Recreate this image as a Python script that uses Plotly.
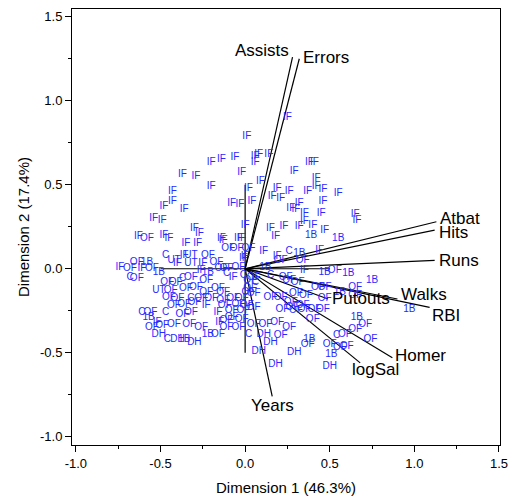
import plotly.graph_objects as go

# ---- observation scores (Dimension 1, Dimension 2) with position labels ----
pos = ["IF","IF","IF","IF","IF","IF","IF","IF","IF","IF",
       "IF","IF","IF","IF","IF","IF","IF","IF","IF","IF",
       "IF","IF","IF","IF","IF","IF","IF","OF","IF","IF",
       "IF","IF","IF","IF","IF","IF","IF","IF","IF","IF",
       "IF","IF","IF","IF","IF","IF","IF","IF","IF","IF",
       "IF","IF","IF","IF","IF","IF","IF","IF","IF","1B",
       "1B","IF","IF","OF","OF","IF","IF","C","1B","OF",
       "OF","IF","IF","1B","IF","1B","OF","1B","1B","1B",
       "OF","OF","1B","OF","OF","OF","OF","OF","OF","OF",
       "OF","C","OF","OF","OF","OF","OF","OF","OF","OF",
       "OF","OF","OF","OF","OF","OF","OF","OF","OF","OF",
       "C","DH","OF","DH","DH","DH","DH","DH","1B","OF",
       "C","OF","OF","OF","OF","1B","1B","OF","OF","OF",
       "IF","OF","OF","1B","IF","OF","1B","C","OF","C",
       "UT","IF","UT","IF","UT","OF","OF","IF","IF","1B",
       "OF","C","IF","OF","OF","C","OF","OF","UT","OF",
       "OF","OF","OF","OF","OF","OF","OF","C","OF","OF",
       "OF","OF","OF","C","OF","C","1B","IF","OF","OF",
       "OF","IF","OF","OF","OF","OF","IF","OF","OF","OF",
       "IF","OF","OF","OF","OF","OF","OF","DH","C","DH",
       "1B","DH","1B","OF","OF","OF","OF","C","OF","C",
       "OF","OF","OF","OF","OF","OF","IF","IF","IF","IF"]
dim1 = [0.01,0.25,-0.20,-0.14,-0.06,0.06,0.08,0.14,0.06,-0.37,
        -0.29,-0.20,-0.02,0.02,-0.43,-0.43,-0.48,-0.36,-0.08,-0.03,
        0.04,-0.54,-0.49,0.00,-0.30,-0.27,-0.63,-0.58,-0.48,-0.45,
        -0.14,-0.02,0.29,0.38,0.41,0.09,0.42,0.42,0.46,0.55,
        0.19,0.26,0.37,0.16,0.21,0.32,0.46,0.27,0.30,0.35,
        0.45,0.65,0.66,0.35,0.40,0.15,0.23,0.32,0.47,0.39,
        0.55,0.18,-0.13,-0.10,0.02,0.11,0.19,0.26,0.32,0.21,
        0.34,0.44,-0.01,0.12,0.35,0.47,0.53,0.61,0.75,0.97,
        0.65,0.65,0.56,0.26,0.31,0.43,0.47,0.30,0.36,0.47,
        0.03,0.06,0.24,0.02,0.15,0.21,-0.02,0.27,0.22,0.30,
        0.35,0.41,0.46,-0.01,-0.02,0.05,0.12,0.19,0.26,0.40,
        0.02,0.11,0.21,0.15,0.08,0.29,0.18,0.50,0.38,0.37,
        0.54,0.59,0.50,0.56,0.60,0.51,0.66,0.71,0.65,0.74,
        -0.74,-0.68,-0.64,-0.58,-0.61,-0.55,-0.51,-0.68,-0.64,-0.47,
        -0.42,-0.36,-0.32,-0.40,-0.32,-0.22,-0.17,-0.25,-0.26,-0.22,
        -0.14,-0.11,-0.07,-0.46,-0.41,-0.37,-0.32,-0.23,-0.51,-0.44,
        -0.35,-0.29,-0.23,-0.16,-0.13,-0.45,-0.40,-0.32,-0.26,-0.20,
        -0.13,-0.07,-0.04,-0.61,-0.56,-0.47,-0.57,-0.52,-0.42,-0.36,
        -0.30,-0.23,-0.12,-0.08,-0.37,-0.32,-0.16,-0.08,-0.33,-0.26,
        -0.15,-0.11,-0.11,-0.04,-0.55,-0.49,-0.42,-0.51,-0.46,-0.40,
        -0.36,-0.30,-0.22,-0.16,-0.05,-0.11,-0.04,-0.01,0.05,0.15,
        0.03,0.05,0.01,0.05,0.28,0.34,-0.35,-0.28,-0.04,0.00]
dim2 = [0.79,0.90,0.63,0.65,0.66,0.67,0.68,0.68,0.63,0.56,
        0.55,0.49,0.57,0.48,0.46,0.40,0.37,0.35,0.39,0.38,
        0.40,0.30,0.29,0.26,0.24,0.21,0.19,0.18,0.20,0.18,
        0.18,0.18,0.58,0.63,0.63,0.52,0.54,0.49,0.47,0.45,
        0.48,0.46,0.46,0.43,0.42,0.39,0.40,0.36,0.35,0.33,
        0.33,0.32,0.29,0.28,0.26,0.24,0.25,0.25,0.23,0.20,
        0.18,0.19,0.17,0.12,0.12,0.10,0.07,0.10,0.09,0.05,
        0.05,0.11,0.06,0.01,-0.01,-0.02,-0.01,-0.03,-0.07,-0.24,
        -0.11,-0.16,-0.14,-0.07,-0.08,-0.11,-0.11,-0.15,-0.16,-0.18,
        -0.07,-0.08,-0.05,-0.14,-0.17,-0.17,-0.18,-0.20,-0.24,-0.25,
        -0.24,-0.24,-0.24,-0.25,-0.30,-0.33,-0.33,-0.32,-0.35,-0.30,
        -0.39,-0.39,-0.40,-0.44,-0.49,-0.50,-0.57,-0.58,-0.42,-0.45,
        -0.40,-0.39,-0.45,-0.47,-0.46,-0.51,-0.29,-0.33,-0.36,-0.42,
        0.01,0.00,0.04,0.04,0.00,0.00,-0.02,-0.05,-0.06,0.08,
        0.05,0.08,0.08,0.03,0.03,0.08,0.04,0.03,-0.01,-0.02,
        0.00,-0.03,-0.05,-0.08,-0.08,-0.06,-0.05,-0.07,-0.13,-0.13,
        -0.12,-0.11,-0.14,-0.12,-0.14,-0.17,-0.18,-0.18,-0.18,-0.18,
        -0.19,-0.18,-0.21,-0.26,-0.26,-0.26,-0.29,-0.32,-0.22,-0.21,
        -0.20,-0.22,-0.22,-0.25,-0.27,-0.26,-0.26,-0.29,-0.33,-0.35,
        -0.32,-0.31,-0.35,-0.35,-0.35,-0.34,-0.33,-0.39,-0.42,-0.42,
        -0.42,-0.44,-0.39,-0.39,0.12,0.00,0.01,-0.04,-0.05,-0.04,
        -0.12,-0.15,-0.22,-0.23,-0.23,-0.22,0.15,0.15,0.18,0.07]

# ---- variable vectors ----
var_names = ["Assists","Errors","Atbat","Hits","Runs","Walks","RBI",
             "Putouts","Homer","logSal","Years"]
var_x = [0.28, 0.32, 1.13, 1.12, 1.12, 0.90, 1.09, 0.49, 0.87, 0.68, 0.16]
var_y = [1.26, 1.25, 0.28, 0.23, 0.05, -0.18, -0.23, -0.18, -0.53, -0.56, -0.76]

# reference cross through origin
ref_x = [-0.5, 0.5]
ref_y = [-0.5, 0.5]

FONT = "Liberation Sans, Arial, sans-serif"
BLUE = "rgb(40,40,255)"

fig = go.Figure()

# reference cross
fig.add_trace(go.Scatter(x=[ref_x[0], ref_x[1], None, 0, 0],
                         y=[0, 0, None, ref_y[0], ref_y[1]],
                         mode="lines", line=dict(color="black", width=1.2),
                         hoverinfo="skip", showlegend=False))

# vectors
lx, ly = [], []
for vx, vy in zip(var_x, var_y):
    lx += [0, vx, None]
    ly += [0, vy, None]
fig.add_trace(go.Scatter(x=lx, y=ly, mode="lines",
                         line=dict(color="black", width=1.2),
                         hoverinfo="skip", showlegend=False))

# observation labels
fig.add_trace(go.Scatter(x=dim1, y=dim2, mode="text", text=pos,
                         textposition="middle center",
                         textfont=dict(family=FONT, size=10, color=BLUE),
                         showlegend=False))

# vector labels
anchors = {
    "Assists": ("right", "middle", -2, 7),
    "Errors": ("left", "middle", 2, 1),
    "Atbat": ("left", "middle", 2, 3),
    "Hits": ("left", "middle", 2, -2),
    "Runs": ("left", "middle", 2, 0),
    "Walks": ("left", "middle", 2, 4),
    "RBI": ("left", "middle", 0, -8),
    "Putouts": ("left", "middle", 2, 0),
    "Homer": ("left", "middle", 1, 2),
    "logSal": ("left", "middle", -10, -7),
    "Years": ("center", "top", 0, 2),
}
for name, vx, vy in zip(var_names, var_x, var_y):
    xa, ya, dx, dy = anchors[name]
    fig.add_annotation(x=vx, y=vy, text=name, showarrow=False,
                       xanchor=xa, yanchor=ya, xshift=dx, yshift=dy,
                       font=dict(family=FONT, size=17, color="black"))

axis_common = dict(showline=True, linecolor="black", linewidth=1, mirror=True,
                   ticks="outside", ticklen=6, tickcolor="black",
                   showgrid=False, zeroline=False,
                   tickfont=dict(family=FONT, size=13, color="black"),
                   minor=dict(ticks="outside", ticklen=3, dtick=0.25,
                              tickcolor="black", showgrid=False))

fig.update_xaxes(range=[-1.023, 1.506], tickvals=[-1.0, -0.5, 0.0, 0.5, 1.0, 1.5],
                 ticktext=["-1.0", "-0.5", "0.0", "0.5", "1.0", "1.5"],
                 title=dict(text="Dimension 1 (46.3%)",
                            font=dict(family=FONT, size=15, color="black"),
                            standoff=12),
                 **axis_common)
fig.update_yaxes(range=[-1.049, 1.546], tickvals=[-1.0, -0.5, 0.0, 0.5, 1.0, 1.5],
                 ticktext=["-1.0", "-0.5", "0.0", "0.5", "1.0", "1.5"],
                 title=dict(text="Dimension 2 (17.4%)",
                            font=dict(family=FONT, size=15, color="black"),
                            standoff=6),
                 **axis_common)

fig.update_layout(width=516, height=501,
                  margin=dict(l=72, r=11, t=8, b=55),
                  paper_bgcolor="white", plot_bgcolor="white",
                  showlegend=False)

fig.write_html("out.html")
